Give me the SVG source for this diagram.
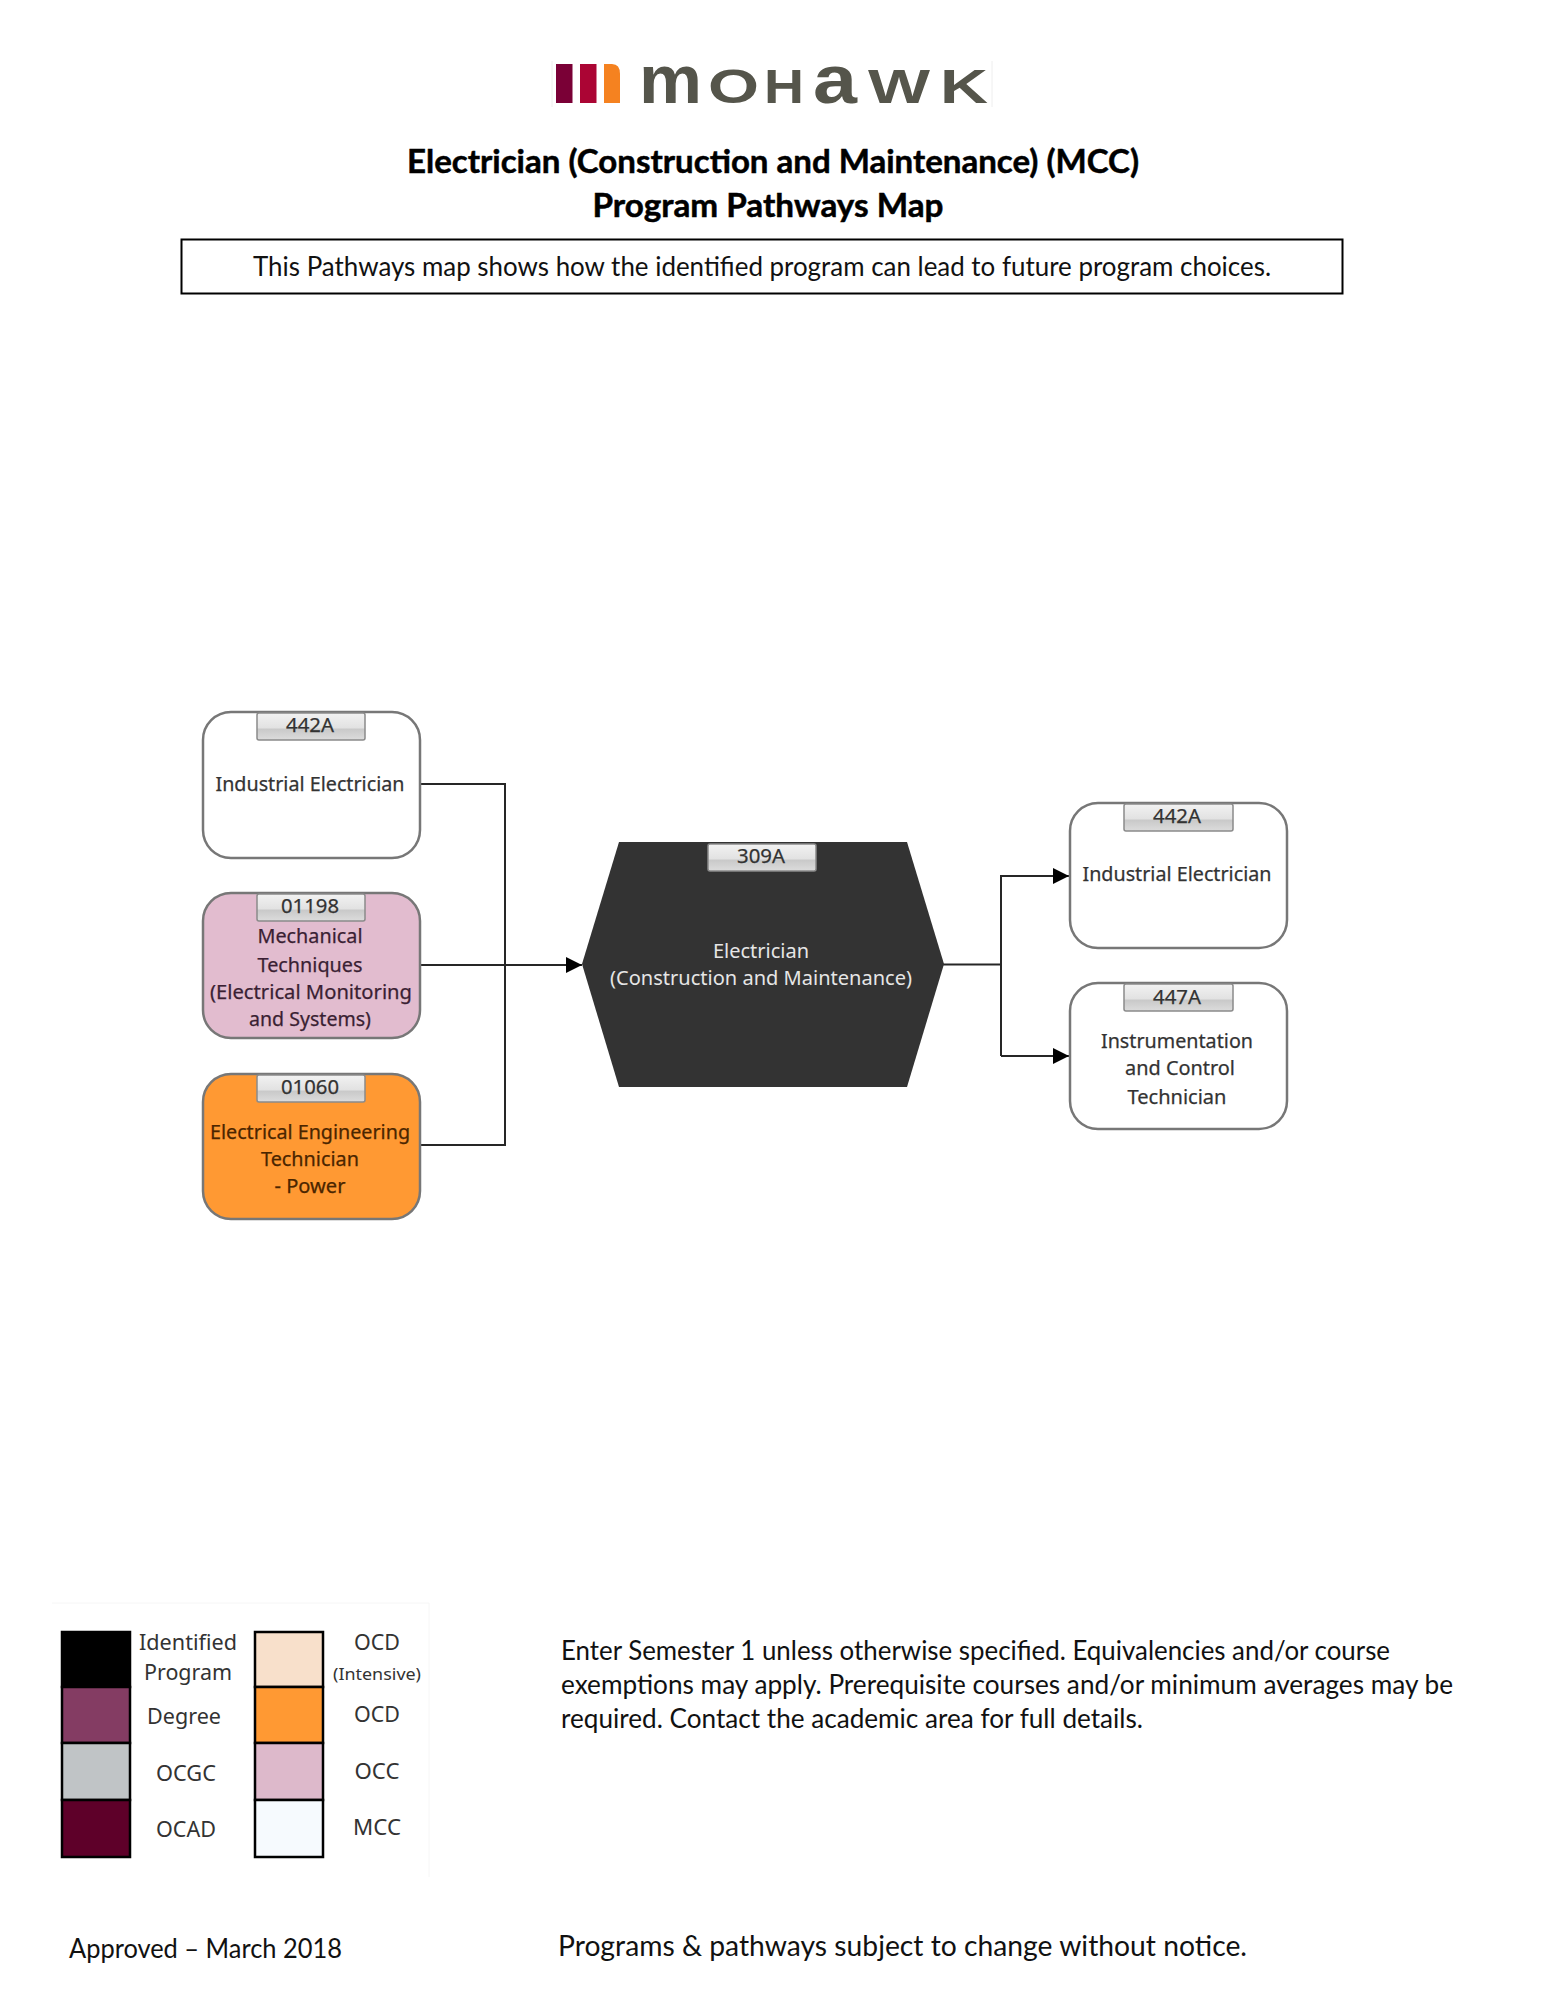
<svg xmlns="http://www.w3.org/2000/svg" width="1546" height="2000" viewBox="0 0 1546 2000">
<style>
text{font-family:"Lato","Open Sans","Liberation Sans",sans-serif;text-anchor:middle}
.t{font-family:"Noto Sans","Open Sans",sans-serif;font-size:20px;fill:#333;stroke:#333;stroke-width:.25}
.d{fill:#4a2500;stroke:#4a2500}
.p{fill:#3a1f33;stroke:#3a1f33}
.w{fill:#e6e6e6;stroke:none}
.title{font-weight:700;font-size:33px;fill:#000;stroke:#000;stroke-width:.5}
.b{font-size:27px;fill:#111;text-anchor:start}
.box{stroke:#777;stroke-width:2.5}
.tab{fill:url(#tabg);stroke:#8a8a8a;stroke-width:1.5}
.c{fill:none;stroke:#262626;stroke-width:2}
.l{font-family:"Noto Sans","Open Sans",sans-serif;font-size:21px;fill:#333}
.k{stroke:#000;stroke-width:2.5}
.logo{font-family:"Liberation Sans",sans-serif;font-weight:700;font-size:49px;fill:#55554b;text-anchor:start}
.lc{font-size:68px}
</style>
<defs>
<linearGradient id="tabg" x1="0" y1="0" x2="0" y2="1"><stop offset="0" stop-color="#f2f2f2"/><stop offset=".55" stop-color="#e2e2e2"/><stop offset=".6" stop-color="#c9c9c9"/><stop offset="1" stop-color="#dcdcdc"/></linearGradient>
<marker id="a" markerUnits="userSpaceOnUse" markerWidth="16" markerHeight="16" refX="16" refY="8" orient="auto"><path d="M0 0L16 8L0 16z" fill="#000"/></marker>
</defs>
<rect width="1546" height="2000" fill="#fff"/>
<g id="logo">
<path d="M552 61V107M992 61V107" fill="none" stroke="#eee"/>
<rect x="556" y="64" width="16.500" height="39" fill="#7a0036"/>
<rect x="580" y="64" width="16.500" height="39" fill="#ab0534"/>
<path d="M604 64H612Q620 64 620 74V103H604z" fill="#f58220"/>
<text class="logo" y="103"><tspan class="lc" x="639" textLength="63" lengthAdjust="spacingAndGlyphs">m</tspan><tspan x="708" textLength="51" lengthAdjust="spacingAndGlyphs">O</tspan><tspan x="764" textLength="40" lengthAdjust="spacingAndGlyphs">H</tspan><tspan class="lc" x="813" textLength="44" lengthAdjust="spacingAndGlyphs">a</tspan><tspan x="868" textLength="62" lengthAdjust="spacingAndGlyphs">W</tspan><tspan x="940" textLength="48" lengthAdjust="spacingAndGlyphs">K</tspan></text>
</g>
<g id="heading">
<text class="title" x="773" y="173" textLength="732" lengthAdjust="spacingAndGlyphs">Electrician (Construction and Maintenance) (MCC)</text>
<text class="title" x="768" y="217" textLength="351" lengthAdjust="spacingAndGlyphs">Program Pathways Map</text>
<rect x="181.500" y="239.500" width="1161" height="54" fill="#fff" stroke="#000" stroke-width="2"/>
<text x="762" y="276" font-size="27" fill="#111" textLength="1018" lengthAdjust="spacingAndGlyphs">This Pathways map shows how the identified program can lead to future program choices.</text>
</g>
<g id="connectors">
<path class="c" d="M420 784H505V1145H420"/>
<path class="c" d="M420 965H582" marker-end="url(#a)"/>
<path class="c" d="M943 964.500H1001"/>
<path class="c" d="M1001 1056V876H1069" marker-end="url(#a)"/>
<path class="c" d="M1001 1056H1069" marker-end="url(#a)"/>
</g>
<g id="n-442A-left">
<rect class="box" x="203" y="712" width="217" height="146" rx="28" fill="#fff"/>
<rect class="tab" x="257" y="713" width="108" height="27" rx="2"/>
<text class="t" x="310" y="732" textLength="48" lengthAdjust="spacingAndGlyphs">442A</text>
<text class="t" x="310" y="791" textLength="189" lengthAdjust="spacingAndGlyphs">Industrial Electrician</text>
</g>
<g id="n-01198">
<rect class="box" x="203" y="893" width="217" height="145" rx="28" fill="#e2bccf"/>
<rect class="tab" x="257" y="894" width="108" height="27" rx="2"/>
<text class="t" x="310" y="913" textLength="58" lengthAdjust="spacingAndGlyphs">01198</text>
<text class="t p" x="310" y="943" textLength="105" lengthAdjust="spacingAndGlyphs">Mechanical</text>
<text class="t p" x="310" y="972" textLength="105" lengthAdjust="spacingAndGlyphs">Techniques</text>
<text class="t p" x="311" y="999" textLength="202" lengthAdjust="spacingAndGlyphs">(Electrical Monitoring</text>
<text class="t p" x="310" y="1026" textLength="122" lengthAdjust="spacingAndGlyphs">and Systems)</text>
</g>
<g id="n-01060">
<rect class="box" x="203" y="1074" width="217" height="145" rx="28" fill="#ff9933"/>
<rect class="tab" x="257" y="1075" width="108" height="27" rx="2"/>
<text class="t" x="310" y="1094" textLength="58" lengthAdjust="spacingAndGlyphs">01060</text>
<text class="t d" x="310" y="1139" textLength="200" lengthAdjust="spacingAndGlyphs">Electrical Engineering</text>
<text class="t d" x="310" y="1166" textLength="98" lengthAdjust="spacingAndGlyphs">Technician</text>
<text class="t d" x="310" y="1193" textLength="71" lengthAdjust="spacingAndGlyphs">- Power</text>
</g>
<g id="n-309A">
<path d="M619 842H907L944 964L907 1087H619L582 964z" fill="#333"/>
<rect class="tab" x="708" y="844" width="108" height="27" rx="2"/>
<text class="t" x="761" y="863" textLength="48" lengthAdjust="spacingAndGlyphs">309A</text>
<text class="t w" x="761" y="958" textLength="96" lengthAdjust="spacingAndGlyphs">Electrician</text>
<text class="t w" x="761" y="985" textLength="302" lengthAdjust="spacingAndGlyphs">(Construction and Maintenance)</text>
</g>
<g id="n-442A-right">
<rect class="box" x="1070" y="803" width="217" height="145" rx="28" fill="#fff"/>
<rect class="tab" x="1124" y="804" width="109" height="27" rx="2"/>
<text class="t" x="1177" y="823" textLength="48" lengthAdjust="spacingAndGlyphs">442A</text>
<text class="t" x="1177" y="881" textLength="189" lengthAdjust="spacingAndGlyphs">Industrial Electrician</text>
</g>
<g id="n-447A">
<rect class="box" x="1070" y="983" width="217" height="146" rx="28" fill="#fff"/>
<rect class="tab" x="1124" y="984" width="109" height="27" rx="2"/>
<text class="t" x="1177" y="1004" textLength="48" lengthAdjust="spacingAndGlyphs">447A</text>
<text class="t" x="1177" y="1048" textLength="152" lengthAdjust="spacingAndGlyphs">Instrumentation</text>
<text class="t" x="1180" y="1075" textLength="110" lengthAdjust="spacingAndGlyphs">and Control</text>
<text class="t" x="1177" y="1104" textLength="99" lengthAdjust="spacingAndGlyphs">Technician</text>
</g>
<g id="legend">
<path d="M52 1603H429V1877" fill="none" stroke="#f6f6f6"/>
<rect class="k" x="62" y="1632" width="68" height="55" fill="#000"/>
<rect class="k" x="62" y="1687" width="68" height="56" fill="#843c63"/>
<rect class="k" x="62" y="1743" width="68" height="57" fill="#c0c4c6"/>
<rect class="k" x="62" y="1800" width="68" height="57" fill="#5e0029"/>
<rect class="k" x="255" y="1632" width="68" height="55" fill="#f8e0cb"/>
<rect class="k" x="255" y="1687" width="68" height="56" fill="#ff9933"/>
<rect class="k" x="255" y="1743" width="68" height="57" fill="#ddb9cb"/>
<rect class="k" x="255" y="1800" width="68" height="57" fill="#f6fafe"/>
<text class="l" x="188" y="1650" textLength="98" lengthAdjust="spacingAndGlyphs">Identified</text>
<text class="l" x="188" y="1680" textLength="88" lengthAdjust="spacingAndGlyphs">Program</text>
<text class="l" x="184" y="1724" textLength="74" lengthAdjust="spacingAndGlyphs">Degree</text>
<text class="l" x="186" y="1781" textLength="60" lengthAdjust="spacingAndGlyphs">OCGC</text>
<text class="l" x="186" y="1837" textLength="60" lengthAdjust="spacingAndGlyphs">OCAD</text>
<text class="l" x="377" y="1650" textLength="46" lengthAdjust="spacingAndGlyphs">OCD</text>
<text class="l" x="377" y="1680" style="font-size:17px" textLength="88" lengthAdjust="spacingAndGlyphs">(Intensive)</text>
<text class="l" x="377" y="1722" textLength="46" lengthAdjust="spacingAndGlyphs">OCD</text>
<text class="l" x="377" y="1779" textLength="45" lengthAdjust="spacingAndGlyphs">OCC</text>
<text class="l" x="377" y="1835" textLength="48" lengthAdjust="spacingAndGlyphs">MCC</text>
</g>
<g id="notes">
<text class="b" x="561" y="1660" textLength="829" lengthAdjust="spacingAndGlyphs">Enter Semester 1 unless otherwise specified. Equivalencies and/or course</text>
<text class="b" x="561" y="1694" textLength="892" lengthAdjust="spacingAndGlyphs">exemptions may apply. Prerequisite courses and/or minimum averages may be</text>
<text class="b" x="561" y="1728" textLength="582" lengthAdjust="spacingAndGlyphs">required. Contact the academic area for full details.</text>
<text class="b" x="69" y="1958" textLength="273" lengthAdjust="spacingAndGlyphs">Approved – March 2018</text>
<text class="b" x="558" y="1956" style="font-size:29px" textLength="689" lengthAdjust="spacingAndGlyphs">Programs &amp; pathways subject to change without notice.</text>
</g>
</svg>
